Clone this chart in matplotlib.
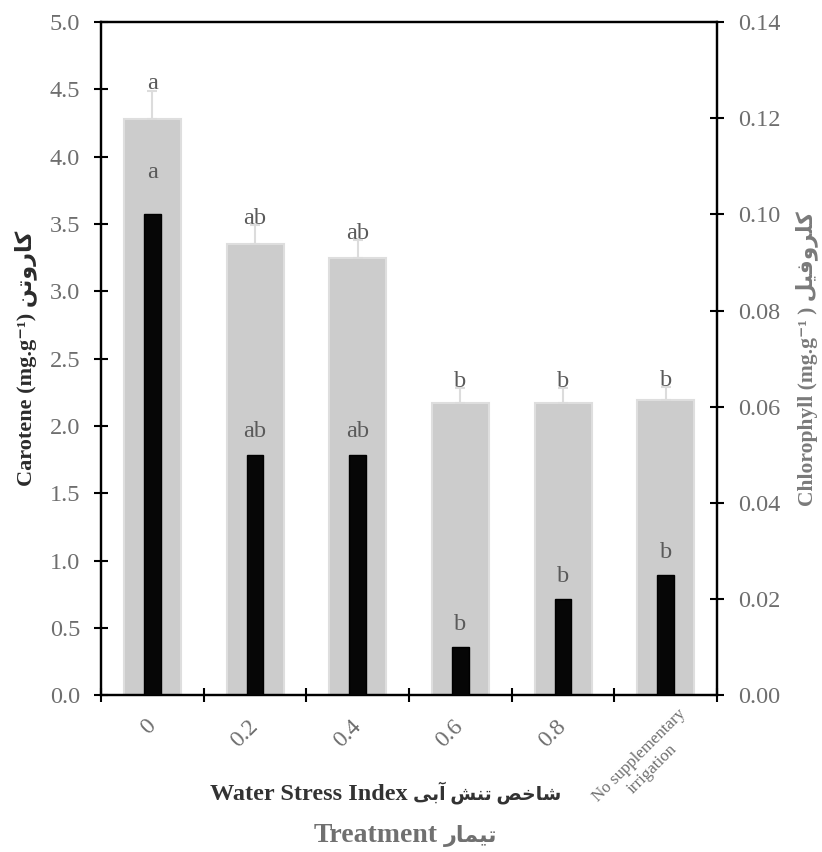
import matplotlib
matplotlib.use("Agg")
import matplotlib.pyplot as plt
import matplotlib.transforms as mtransforms
import numpy as np

# data
treatments = ["0", "0.2", "0.4", "0.6", "0.8", "No supplementary\nirrigation"]
carotene = [4.28, 3.35, 3.25, 2.17, 2.17, 2.19]
carotene_err = [0.21, 0.14, 0.13, 0.11, 0.11, 0.10]
carotene_letters = ["a", "ab", "ab", "b", "b", "b"]
chlorophyll = [0.100, 0.050, 0.050, 0.010, 0.020, 0.025]
chlorophyll_letters = ["a", "ab", "ab", "b", "b", "b"]

# simple Persian shaping (matplotlib has no bidi / joining support)
FORMS = {
    'ک': ('\uFB8E', '\uFB8F', '\uFB90', '\uFB91'),
    'ی': ('\uFBFC', '\uFBFD', '\uFBFE', '\uFBFF'),
    'ا': ('\uFE8D', '\uFE8E', None, None),
    'آ': ('\uFE81', '\uFE82', None, None),
    'ر': ('\uFEAD', '\uFEAE', None, None),
    'و': ('\uFEED', '\uFEEE', None, None),
    'ت': ('\uFE95', '\uFE96', '\uFE97', '\uFE98'),
    'ن': ('\uFEE5', '\uFEE6', '\uFEE7', '\uFEE8'),
    'ل': ('\uFEDD', '\uFEDE', '\uFEDF', '\uFEE0'),
    'ف': ('\uFED1', '\uFED2', '\uFED3', '\uFED4'),
    'ش': ('\uFEB5', '\uFEB6', '\uFEB7', '\uFEB8'),
    'خ': ('\uFEA5', '\uFEA6', '\uFEA7', '\uFEA8'),
    'ص': ('\uFEB9', '\uFEBA', '\uFEBB', '\uFEBC'),
    'ب': ('\uFE8F', '\uFE90', '\uFE91', '\uFE92'),
    'م': ('\uFEE1', '\uFEE2', '\uFEE3', '\uFEE4'),
}


def fa(text):
    out = []
    for i, ch in enumerate(text):
        if ch not in FORMS:
            out.append(ch)
            continue
        prev = text[i - 1] if i > 0 else None
        nxt = text[i + 1] if i < len(text) - 1 else None
        join_prev = prev in FORMS and FORMS[prev][2] is not None
        join_next = FORMS[ch][2] is not None and nxt in FORMS
        if join_prev and join_next:
            out.append(FORMS[ch][3])
        elif join_prev:
            out.append(FORMS[ch][1])
        elif join_next:
            out.append(FORMS[ch][2])
        else:
            out.append(FORMS[ch][0])
    return "".join(out)[::-1]


FAM = ["Liberation Serif", "DejaVu Sans"]
plt.rcParams['font.family'] = FAM

tick_grey = "#6e6e6e"
bar_grey = "#cccccc"
W, H = 822, 852

fig = plt.figure(figsize=(8.22, 8.52), dpi=100)
ax = fig.add_axes([0.1229, 0.1839, 0.7494, 0.7903])
ax2 = ax.twinx()

x = np.arange(len(treatments))

# gray bars: carotene on the left axis
ax.bar(x, carotene, width=0.555, color=bar_grey, edgecolor="#dedede", linewidth=1.5, zorder=2)
ax.errorbar(x, carotene, yerr=[np.zeros(len(x)), carotene_err], fmt="none",
            ecolor="#dcdcdc", elinewidth=1.5, capsize=3.5, capthick=1.5, zorder=3)
for xi, m, e, lab in zip(x, carotene, carotene_err, carotene_letters):
    ax.annotate(lab, (xi, m + e), xytext=(0, 1), textcoords="offset points",
                ha="center", va="baseline", fontsize=17.5, color="#5a5a5a")

# black bars: chlorophyll on the right axis
ax2.bar(x, chlorophyll, width=0.165, color="#060606", edgecolor="black", zorder=3)
for i, (xi, v, lab) in enumerate(zip(x, chlorophyll, chlorophyll_letters)):
    off = 30 if i == 0 else 16.5
    ax2.annotate(lab, (xi, v), xytext=(0, off), textcoords="offset points",
                 ha="center", va="center", fontsize=17.5, color="#5a5a5a")

ax.set_xlim(-0.5, len(x) - 0.5)
ax.set_ylim(0, 5.0)
ax2.set_ylim(0, 0.14)
ax.set_yticks(np.arange(0, 5.01, 0.5))
ax.set_yticklabels([f"{v:.1f}" for v in np.arange(0, 5.01, 0.5)])
ax2.set_yticks(np.arange(0, 0.141, 0.02))
ax2.set_yticklabels([f"{v:.2f}" for v in np.arange(0, 0.141, 0.02)])

# category boundaries get the ticks, labels sit under the bars
ax.set_xticks(np.arange(-0.5, len(x) + 0.5, 1.0))
ax.set_xticklabels([])
ax.set_xticks(x, minor=True)
ax.set_xticklabels(treatments, minor=True)
ax.tick_params(axis="x", which="minor", length=0, pad=20)
for t, lab in zip(ax.get_xticklabels(minor=True), treatments):
    t.set_rotation(45)
    t.set_rotation_mode("anchor")
    t.set_ha("right")
    t.set_va("center")
    t.set_multialignment("center")
    t.set_color(tick_grey)
    if "\n" in lab:
        t.set_fontsize(12.2)
        t.set_transform(t.get_transform() + mtransforms.ScaledTranslation(24 / 100, 5 / 100, fig.dpi_scale_trans))
    else:
        t.set_fontsize(17)

for a in (ax, ax2):
    for s in a.spines.values():
        s.set_linewidth(1.6)
        s.set_color("black")
    a.tick_params(which="major", direction="inout", length=10, width=1.5,
                  labelsize=17.5, labelcolor=tick_grey, pad=10)

ax.set_ylabel("Carotene (mg.g\u207b\u00b9) " + fa("کاروتن"), fontsize=16,
              fontweight="bold", color="#2b2b2b", labelpad=9)
ax2.set_ylabel("Chlorophyll (mg.g\u207b\u00b9 ) " + fa("کلروفیل"), fontsize=15.5,
               fontweight="bold", color="#7a7a7a", labelpad=11)

# x titles: latin part first, persian part to its right
fig.text(408 / W, 1 - 800 / H, "Water Stress Index", ha="right", va="baseline",
         fontsize=17.5, fontweight="bold", color="#333333")
fig.text(413 / W, 1 - 800 / H, fa("شاخص تنش آبی"), ha="left", va="baseline",
         fontsize=13.5, fontweight="bold", color="#333333")
fig.text(438 / W, 1 - 842 / H, "Treatment", ha="right", va="baseline",
         fontsize=20, fontweight="bold", color="#707070")
fig.text(444 / W, 1 - 842 / H, fa("تیمار"), ha="left", va="baseline",
         fontsize=16, fontweight="bold", color="#707070")

fig.savefig("out.png", dpi=100)
